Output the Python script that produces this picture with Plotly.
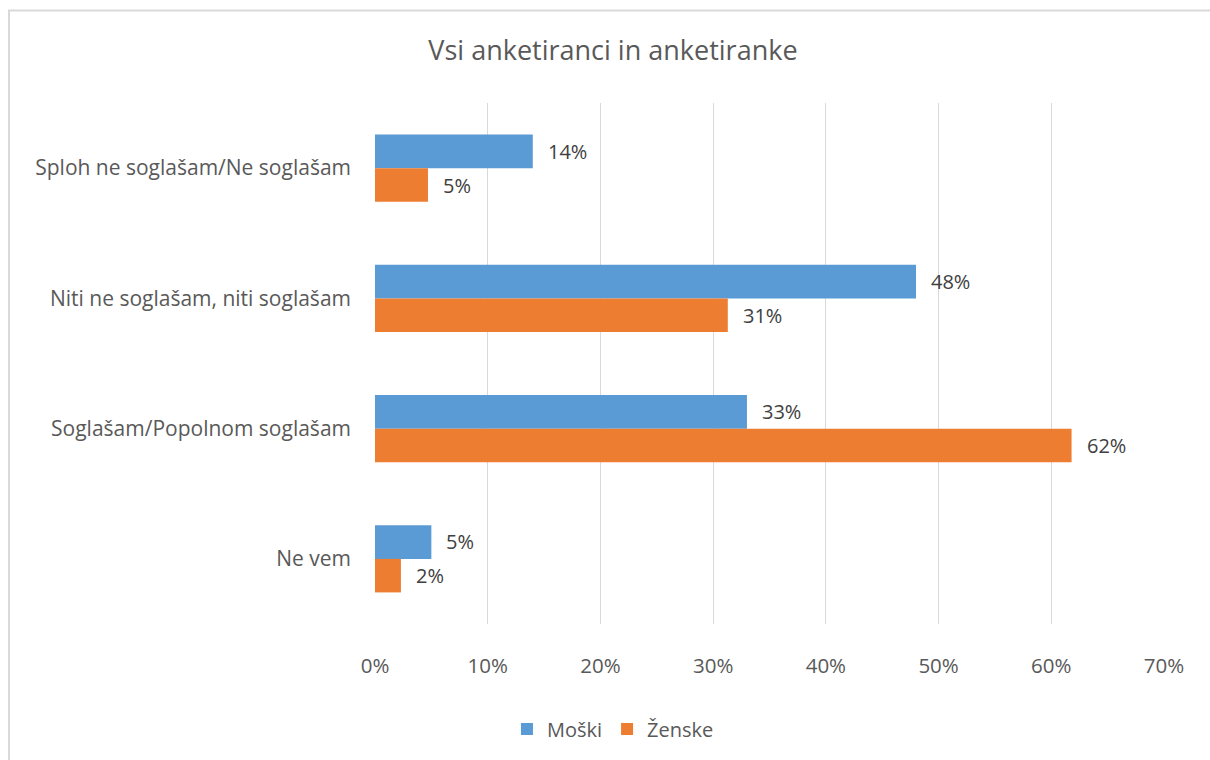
import plotly.graph_objects as go

categories = ["Sploh ne soglašam/Ne soglašam", "Niti ne soglašam, niti soglašam",
              "Soglašam/Popolnom soglašam", "Ne vem"]
moski = [0.14, 0.48, 0.33, 0.05]
zenske = [0.047, 0.313, 0.618, 0.023]
series_names = ["Moški", "Ženske"]
colors = ["#5B9BD5", "#ED7D31"]
tick_vals = [0, 0.1, 0.2, 0.3, 0.4, 0.5, 0.6, 0.7]
tick_text = ["0%", "10%", "20%", "30%", "40%", "50%", "60%", "70%"]

FONT = "Open Sans"
GRAY = "#595959"

fig = go.Figure()
for name, vals, col in zip(series_names, [moski, zenske], colors):
    fig.add_trace(go.Bar(
        y=categories, x=vals, name=name, orientation="h",
        marker=dict(color=col, line=dict(width=0)),
        hoverinfo="skip",
    ))

annotations = []
for vals, shift in [(moski, 17), (zenske, -17)]:
    for c, v in zip(categories, vals):
        annotations.append(dict(
            x=v, y=c, xref="x", yref="y", text=f"{round(v*100):.0f}%",
            showarrow=False, xanchor="left", yanchor="middle",
            xshift=13, yshift=shift,
            font=dict(family=FONT, size=20, color="#404040"),
        ))

fig.update_layout(
    width=1210, height=760,
    margin=dict(l=375, r=46, t=103, b=136),
    paper_bgcolor="white", plot_bgcolor="white",
    barmode="group", bargap=0.485, bargroupgap=0,
    font=dict(family=FONT, color=GRAY),
    title=dict(text="Vsi anketiranci in anketiranke", x=0.3016, xref="paper", xanchor="center",
               y=0.934, yanchor="middle",
               font=dict(family=FONT, size=27, color=GRAY)),
    showlegend=True,
    legend=dict(orientation="h", x=0.3016, xanchor="center", y=-0.2015, yanchor="middle",
                font=dict(family=FONT, size=20, color=GRAY), traceorder="normal",
                itemwidth=30),
    xaxis=dict(range=[0, 0.7], tickvals=tick_vals, ticktext=tick_text,
               showgrid=True, gridcolor="#d9d9d9", gridwidth=1,
               zeroline=False, showline=False, ticks="",
               ticklabelstandoff=27,
               tickfont=dict(family=FONT, size=20.5, color=GRAY), fixedrange=True),
    yaxis=dict(autorange="reversed", showgrid=False, zeroline=False, showline=False,
               ticks="", ticklabelstandoff=23,
               tickfont=dict(family=FONT, size=21, color=GRAY), fixedrange=True),
    annotations=annotations,
    shapes=[dict(type="rect", xref="paper", yref="paper",
                 x0=-0.4639, x1=1.2, y0=-0.4, y1=1.1776,
                 line=dict(color="#d9d9d9", width=2), layer="below")],
)

fig.write_html("out.html", config={"displayModeBar": False},
               post_script="document.body.style.margin='0px';")
